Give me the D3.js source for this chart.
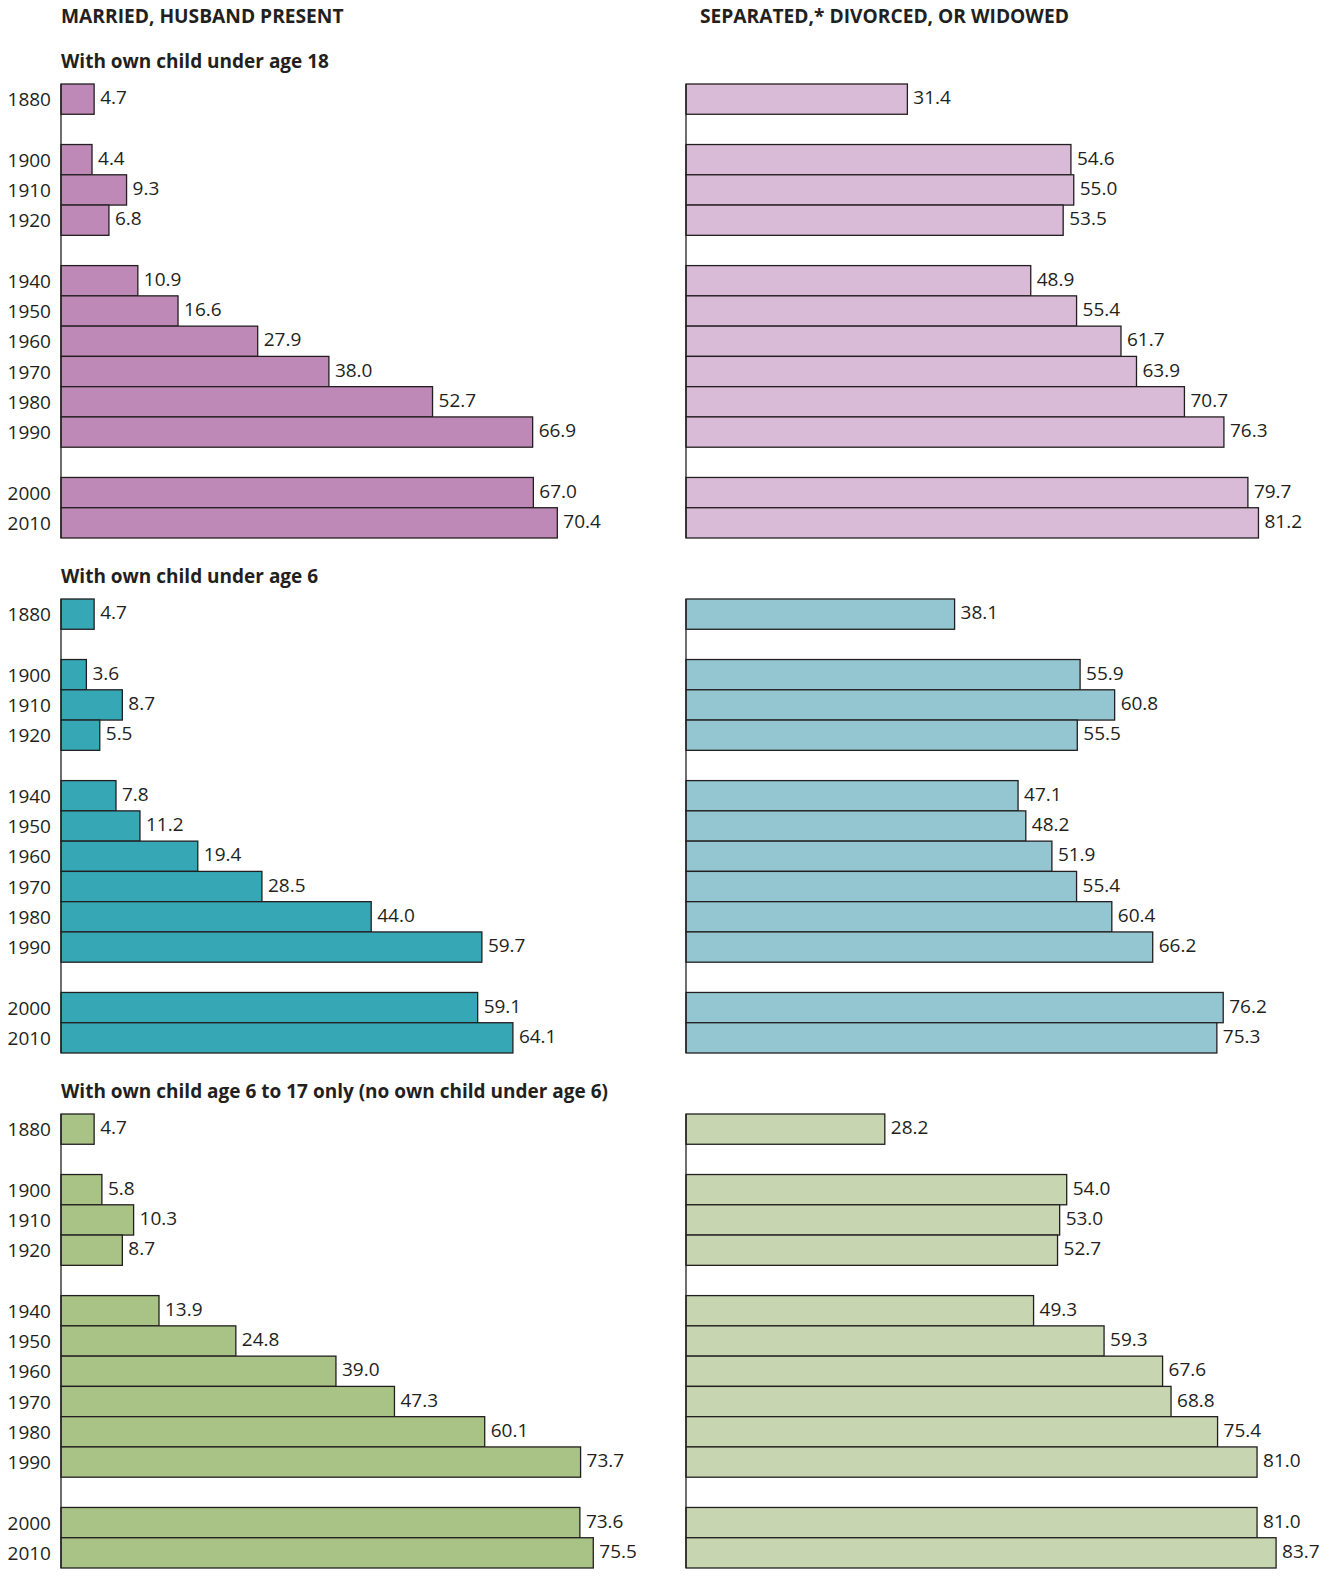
<!DOCTYPE html>
<html>
<head>
<meta charset="utf-8">
<script src="https://cdn.jsdelivr.net/npm/d3@7"></script>
<style>
  html, body { margin: 0; padding: 0; background: #fff; overflow: hidden; }
  svg { display: block; }
  svg text { font-family: "Open Sans", "Noto Sans", sans-serif; fill: #231f20; }
</style>
</head>
<body>
<div id="chart"></div>
<script>
const width = 1338;
const height = 1576;

// row order, with blank slots where census years are missing
const rows = ["1880", "gap1", "1900", "1910", "1920", "gap2", "1940", "1950", "1960", "1970", "1980", "1990", "gap3", "2000", "2010"];
const years = ["1880", "1900", "1910", "1920", "1940", "1950", "1960", "1970", "1980", "1990", "2000", "2010"];

const columnTitles = ["MARRIED, HUSBAND PRESENT", "SEPARATED,* DIVORCED, OR WIDOWED"];
const panelTitles = [
  "With own child under age 18",
  "With own child under age 6",
  "With own child age 6 to 17 only (no own child under age 6)",
];

const married18 = [4.7, 4.4, 9.3, 6.8, 10.9, 16.6, 27.9, 38.0, 52.7, 66.9, 67.0, 70.4];
const other18 = [31.4, 54.6, 55.0, 53.5, 48.9, 55.4, 61.7, 63.9, 70.7, 76.3, 79.7, 81.2];
const married6 = [4.7, 3.6, 8.7, 5.5, 7.8, 11.2, 19.4, 28.5, 44.0, 59.7, 59.1, 64.1];
const other6 = [38.1, 55.9, 60.8, 55.5, 47.1, 48.2, 51.9, 55.4, 60.4, 66.2, 76.2, 75.3];
const married617 = [4.7, 5.8, 10.3, 8.7, 13.9, 24.8, 39.0, 47.3, 60.1, 73.7, 73.6, 75.5];
const other617 = [28.2, 54.0, 53.0, 52.7, 49.3, 59.3, 67.6, 68.8, 75.4, 81.0, 81.0, 83.7];

const panels = [
  { title: panelTitles[0], left: married18, right: other18, colors: ["#bf89b7", "#dabbd7"] },
  { title: panelTitles[1], left: married6, right: other6, colors: ["#35a7b5", "#93c6d0"] },
  { title: panelTitles[2], left: married617, right: other617, colors: ["#a9c285", "#c7d6b0"] },
];

const colX = [61, 686];
const panelTop = 84;
const panelStep = 515;
const panelH = 454;

const xScale = d3.scaleLinear().domain([0, 100]).range([0, 705]);
const yScale = d3.scaleBand().domain(rows).range([0, panelH]).padding(0);

const svg = d3
  .select("#chart")
  .append("svg")
  .attr("width", width)
  .attr("height", height);

svg
  .selectAll(".col-title")
  .data(columnTitles)
  .join("text")
  .attr("class", "col-title")
  .attr("x", (d, i) => (i === 0 ? colX[0] : 700))
  .attr("y", 23)
  .attr("font-size", 19.2)
  .attr("font-weight", 700)
  .text((d) => d);

panels.forEach((p, pi) => {
  const top = panelTop + pi * panelStep;
  const g = svg.append("g").attr("transform", `translate(0, ${top})`);

  g.append("text")
    .attr("x", colX[0])
    .attr("y", -16)
    .attr("font-size", 19)
    .attr("font-weight", 700)
    .text(p.title);

  // year labels
  g.selectAll(".year")
    .data(years)
    .join("text")
    .attr("class", "year")
    .attr("x", 51)
    .attr("y", (d) => yScale(d) + yScale.bandwidth() / 2 + 2)
    .attr("text-anchor", "end")
    .attr("dominant-baseline", "middle")
    .attr("font-size", 19)
    .text((d) => d);

  [p.left, p.right].forEach((vals, ci) => {
    const data = years.map((y, i) => ({ year: y, value: vals[i] }));
    const cg = g.append("g").attr("transform", `translate(${colX[ci]}, 0)`);

    cg.selectAll("rect")
      .data(data)
      .join("rect")
      .attr("x", 0)
      .attr("y", (d) => yScale(d.year))
      .attr("width", (d) => xScale(d.value))
      .attr("height", yScale.bandwidth())
      .attr("fill", p.colors[ci])
      .attr("stroke", "#231f20")
      .attr("stroke-width", 1.3);

    cg.append("line")
      .attr("x1", 0)
      .attr("x2", 0)
      .attr("y1", 0)
      .attr("y2", panelH)
      .attr("stroke", "#231f20")
      .attr("stroke-width", 1.3);

    cg.selectAll(".val")
      .data(data)
      .join("text")
      .attr("class", "val")
      .attr("x", (d) => xScale(d.value) + 6)
      .attr("y", (d) => yScale(d.year) + yScale.bandwidth() / 2)
      .attr("dominant-baseline", "middle")
      .attr("font-size", 19)
      .text((d) => d3.format(".1f")(d.value));
  });
});
</script>
</body>
</html>
